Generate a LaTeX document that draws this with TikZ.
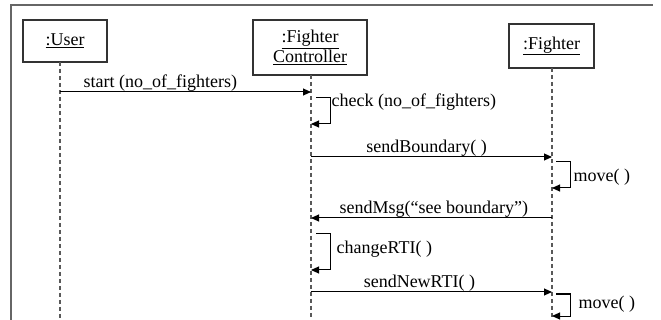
\documentclass[tikz,border=0pt]{standalone}
\usepackage{fontspec}
\setmainfont{Liberation Serif}
\usetikzlibrary{arrows.meta}

\begin{document}
\begin{tikzpicture}[x=1pt, y=-1pt, font=\fontsize{18}{17}\selectfont,
    obj/.style={draw=black!80, line width=1.2pt, inner sep=0pt, align=center},
    life/.style={draw=black!65, line width=1.1pt, dash pattern=on 4pt off 3pt},
    msg/.style={line width=1pt, -{Triangle[length=8pt, width=7pt]}},
    lbl/.style={inner sep=0.5pt}]
  \useasboundingbox (0,0) rectangle (661,320);
  \draw[black!60, line width=1.4pt] (11,320) -- (11,5) -- (653,5);

  \node[obj, minimum width=84pt, minimum height=42pt] (user) at (65,41) {\underline{:User}};
  \node[obj, minimum width=114pt, minimum height=55pt] (ctrl) at (310,47.5) {\underline{:Fighter}\\\underline{Controller}};
  \node[obj, minimum width=85pt, minimum height=44pt] (ftr) at (551.5,46) {\underline{:Fighter}};

  \coordinate (uTop) at (60,62);
  \coordinate (uEnd) at (60,320);
  \coordinate (cTop) at (311,75);
  \coordinate (cEnd) at (311,320);
  \coordinate (fTop) at (552,68);
  \coordinate (fEnd) at (552,320);
  \draw[life] (uTop) -- (uEnd);
  \draw[life] (cTop) -- (cEnd);
  \draw[life] (fTop) -- (fEnd);

  \coordinate (u1) at (60,92);   \coordinate (c1) at (311,92);
  \coordinate (c2a) at (316,98); \coordinate (c2b) at (311,124);
  \coordinate (c3) at (311,157); \coordinate (f3) at (552,157);
  \coordinate (f4a) at (556,162); \coordinate (f4b) at (552,188);
  \coordinate (f5) at (552,218); \coordinate (c5) at (311,218);
  \coordinate (c6a) at (316,234); \coordinate (c6b) at (311,270);
  \coordinate (c7) at (311,292); \coordinate (f7) at (552,292);
  \coordinate (f8a) at (556,294); \coordinate (f8b) at (552,316);

  \draw[msg] (u1) -- node[lbl, above, pos=0.4] {start (no\_of\_fighters)} (c1);
  \draw[msg] (c2a) -- ++(14,0) |- (c2b);
  \node[lbl, anchor=west] (check) at (331,102) {check (no\_of\_fighters)};
  \draw[msg] (c3) -- node[lbl, above, pos=0.48] {sendBoundary( )} (f3);
  \draw[msg] (f4a) -- ++(14,0) |- (f4b);
  \node[lbl, anchor=west] (move1) at (573,177) {move( )};
  \draw[msg] (f5) -- node[lbl, above, pos=0.49] {sendMsg(“see boundary”)} (c5);
  \draw[msg] (c6a) -- ++(14,0) |- (c6b);
  \node[lbl, anchor=west] (rti) at (336,249) {changeRTI( )};
  \draw[msg] (c7) -- node[lbl, above, pos=0.45] {sendNewRTI( )} (f7);
  \draw[msg] (f8a) -- ++(14,0) |- (f8b);
  \node[lbl, anchor=west] (move2) at (578,304) {move( )};
\end{tikzpicture}
\end{document}
